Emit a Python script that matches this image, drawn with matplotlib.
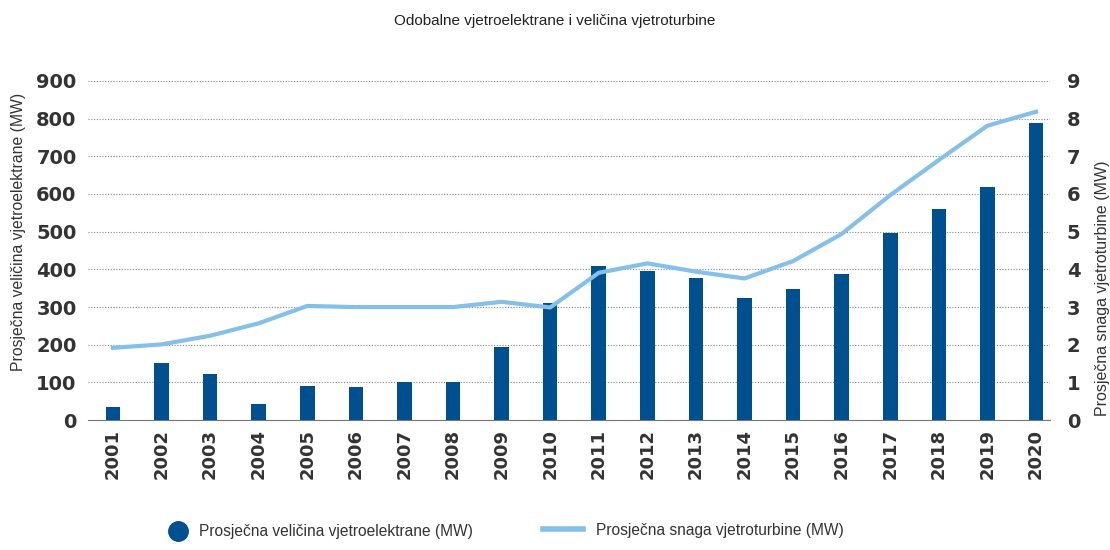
import numpy as np
import matplotlib
matplotlib.use("Agg")
import matplotlib.pyplot as plt
from matplotlib.lines import Line2D

years = [str(y) for y in range(2001, 2021)]
park_size = [35, 152, 123, 43, 92, 88, 101, 100, 193, 312,
             410, 395, 377, 324, 347, 387, 496, 560, 619, 788]
turbine_power = [1.92, 2.01, 2.24, 2.57, 3.03, 3.0, 3.0, 3.0, 3.14, 2.99,
                 3.91, 4.16, 3.94, 3.76, 4.22, 4.94, 5.97, 6.9, 7.81, 8.18]

bar_color = '#00508f'
line_color = '#84c0e8'
txt = '#333333'
lab_font = ['Liberation Sans', 'DejaVu Sans']

fig = plt.figure(figsize=(11.1, 5.5), dpi=100)
ax = fig.add_axes([0.079, 0.236, 0.867, 0.617])
x = np.arange(len(years))

ax.bar(x, park_size, width=0.3, color=bar_color, zorder=3)
ax.set_ylim(0, 900)
ax.set_xlim(-0.52, 19.29)
ax.set_yticks(range(0, 901, 100))
ax.yaxis.grid(True, linestyle=(0, (1, 1.5)), color='#888888', linewidth=0.8, zorder=0)
for s in ['top', 'right', 'left']:
    ax.spines[s].set_visible(False)
ax.spines['bottom'].set_color('#777777')
ax.tick_params(axis='y', length=0, pad=8, labelsize=14, labelcolor=txt)
ax.tick_params(axis='x', length=0, pad=6, labelsize=13, labelcolor=txt)
ax.set_xticks(x)
ax.set_xticklabels(years, rotation=90)
for lb in ax.get_yticklabels() + ax.get_xticklabels():
    lb.set_fontweight('semibold')
ax.set_ylabel('Prosječna veličina vjetroelektrane (MW)', fontsize=11.3, color=txt,
              family=lab_font, va='center')
ax.yaxis.set_label_coords(-0.072, 0.555)

ax2 = ax.twinx()
ax2.plot(x, turbine_power, color=line_color, linewidth=3, zorder=4)
ax2.set_ylim(0, 9)
ax2.set_yticks(range(0, 10))
for s in ['top', 'right', 'left', 'bottom']:
    ax2.spines[s].set_visible(False)
ax2.tick_params(axis='y', length=0, pad=12, labelsize=14, labelcolor=txt)
for lb in ax2.get_yticklabels():
    lb.set_fontweight('semibold')
ax2.set_ylabel('Prosječna snaga vjetroturbine (MW)', fontsize=11.5, color=txt,
               family=lab_font, va='center', rotation=90)
ax2.yaxis.set_label_coords(1.054, 0.39)

fig.suptitle('Odobalne vjetroelektrane i veličina vjetroturbine', fontsize=11, y=0.975,
             color='#222222', family=lab_font)

h1 = [Line2D([], [], marker='o', linestyle='none', markersize=14, color=bar_color)]
h2 = [Line2D([], [], color=line_color, linewidth=4)]
fig.legend(h1, ['Prosječna veličina vjetroelektrane (MW)'],
           loc='center left', bbox_to_anchor=(169 / 1110, 0.033), frameon=False,
           prop={'family': lab_font, 'size': 11.2}, handlelength=1.2,
           handletextpad=0.75, borderpad=0, borderaxespad=0, labelcolor=txt)
fig.legend(h2, ['Prosječna snaga vjetroturbine (MW)'],
           loc='center left', bbox_to_anchor=(543 / 1110, 0.036), frameon=False,
           prop={'family': lab_font, 'size': 11.2}, handlelength=2.57,
           handletextpad=0.83, borderpad=0, borderaxespad=0, labelcolor=txt)

fig.savefig('out.png', dpi=100)
